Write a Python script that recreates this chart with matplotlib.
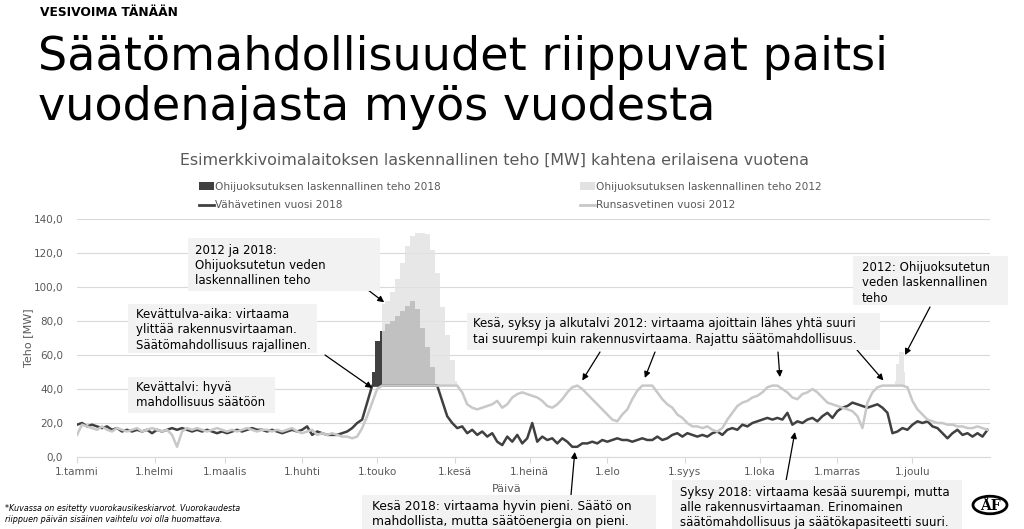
import numpy as np
import matplotlib.pyplot as plt
from matplotlib.patches import Patch, Rectangle, Circle
from matplotlib.lines import Line2D
from matplotlib.ticker import FuncFormatter

plt.rcParams['font.family'] = ['DejaVu Sans']

W, H = 1024, 529

# daily mean power, one value every second day
days = np.arange(0, 365, 2)
dry_2018 = [
    19, 20, 18, 19, 18, 17, 18, 16, 17, 15, 16, 15, 16, 15, 16, 14, 16, 15, 16, 17,
    16, 17, 16, 15, 16, 15, 16, 15, 14, 15, 14, 15, 16, 15, 16, 17, 16, 16, 15, 16,
    15, 14, 15, 16, 15, 16, 18, 13, 15, 14, 13, 13, 13, 14, 15, 17, 20, 22, 32, 42,
    42, 42, 42, 42, 42, 42, 42, 42, 42, 42, 42, 42, 42, 33, 24, 20, 17, 18, 14, 16,
    13, 15, 12, 14, 9, 7, 12, 9, 13, 8, 11, 20, 9, 12, 10, 11, 8, 11, 9, 6,
    6, 8, 8, 9, 8, 10, 9, 10, 11, 10, 10, 9, 10, 11, 10, 10, 12, 10, 11, 13,
    14, 12, 14, 13, 12, 13, 12, 14, 15, 13, 16, 17, 16, 19, 18, 20, 21, 22, 23, 22,
    23, 22, 26, 19, 21, 20, 22, 23, 21, 24, 26, 23, 27, 29, 30, 32, 31, 30, 29, 30,
    31, 29, 26, 14, 15, 17, 16, 19, 21, 20, 21, 18, 17, 14, 11, 14, 16, 13, 14, 12,
    14, 12, 16,
]
wet_2012 = [
    13, 19, 18, 17, 16, 18, 16, 15, 17, 16, 15, 16, 17, 15, 16, 17, 16, 15, 16, 13,
    6, 15, 17, 16, 17, 16, 15, 16, 17, 16, 15, 16, 15, 16, 17, 16, 15, 16, 16, 15,
    16, 15, 16, 17, 15, 14, 15, 16, 13, 14, 13, 14, 13, 12, 12, 11, 12, 17, 24, 32,
    40, 42, 42, 42, 42, 42, 42, 42, 42, 42, 42, 42, 42, 42, 42, 42, 42, 38, 31, 29,
    28, 29, 30, 31, 33, 29, 31, 35, 37, 38, 37, 36, 35, 33, 30, 29, 31, 34, 38, 41,
    42, 40, 37, 34, 31, 28, 25, 22, 21, 25, 28, 34, 39, 42, 42, 42, 38, 34, 31, 29,
    25, 23, 20, 18, 18, 17, 18, 16, 15, 17, 22, 26, 30, 32, 33, 35, 36, 38, 41, 42,
    42, 40, 38, 35, 34, 37, 38, 40, 38, 35, 32, 31, 30, 29, 28, 27, 24, 17, 32, 38,
    41, 42, 42, 42, 42, 42, 41, 33, 28, 25, 22, 21, 20, 20, 19, 19, 18, 18, 17, 17,
    18, 17, 16,
]

# computed power of the spilled water (total above the plant capacity)
capacity = 42
spill_days_2018 = [118, 120, 122, 124, 126, 128, 130, 132, 134, 136, 138, 140, 142, 144]
spill_2018 = [50, 68, 74, 78, 80, 83, 86, 89, 92, 87, 76, 65, 53, 43]
spill_days_2012 = [122, 124, 126, 128, 130, 132, 134, 136, 138, 140, 142, 144, 146, 148, 150, 152]
spill_2012 = [90, 92, 97, 105, 114, 124, 130, 132, 132, 131, 122, 108, 88, 72, 57, 45]
spill_days_2012_dec = [327, 328, 329, 330, 331]
spill_2012_dec = [45, 55, 62, 62, 50]

month_days = [0, 31, 59, 90, 120, 151, 181, 212, 243, 273, 304, 334]
month_labels = ['1.tammi', '1.helmi', '1.maalis', '1.huhti', '1.touko', '1.kesä',
                '1.heinä', '1.elo', '1.syys', '1.loka', '1.marras', '1.joulu']

dark = '#404040'
light = '#c8c8c8'
spill_light = '#e2e2e2'
txt_gray = '#595959'


def fx(x):
    return x / W


def fy(y):
    return 1 - y / H


fig = plt.figure(figsize=(W / 100, H / 100), dpi=100)
ax = fig.add_axes([fx(77), fy(457), 913 / W, 238 / H])

ax.fill_between(spill_days_2018, capacity, spill_2018, step='mid', color=dark, lw=0, zorder=1)
ax.fill_between(spill_days_2012, capacity, spill_2012, step='mid', color=spill_light, alpha=0.8, lw=0, zorder=2)
ax.fill_between(spill_days_2012_dec, capacity, spill_2012_dec, step='mid', color=spill_light, alpha=0.8, lw=0, zorder=2)
ax.plot(days, dry_2018, color=dark, lw=1.8, zorder=3)
ax.plot(days, wet_2012, color=light, lw=1.8, zorder=4)

ax.set_xlim(0, 365)
ax.set_ylim(0, 140)
ax.set_yticks(np.arange(0, 141, 20))
ax.yaxis.set_major_formatter(FuncFormatter(lambda v, p: f'{v:.1f}'.replace('.', ',')))
ax.set_xticks(month_days)
ax.set_xticklabels(month_labels)
ax.grid(axis='y', color='#d9d9d9', lw=0.8)
ax.set_axisbelow(True)
for s in ['top', 'right', 'left']:
    ax.spines[s].set_visible(False)
ax.spines['bottom'].set_color('#d9d9d9')
ax.tick_params(axis='y', length=0, labelsize=7.5, labelcolor=txt_gray, pad=10)
ax.tick_params(axis='x', length=4, color='#d9d9d9', labelsize=7.5, labelcolor=txt_gray, pad=3)

ax.set_ylabel('Teho [MW]', fontsize=8, color=txt_gray)
ax.yaxis.set_label_coords((33 - 77) / 913, 0.5)
ax.set_xlabel('Päivä', fontsize=8, color=txt_gray)
ax.xaxis.set_label_coords((507 - 77) / 913, -(484 - 457) / 238)

# headings
fig.text(fx(40), fy(12), 'VESIVOIMA TÄNÄÄN', fontsize=8.8, fontweight='bold', va='center')
fig.text(fx(38), fy(70), 'Säätömahdollisuudet riippuvat paitsi', fontsize=33.2, va='baseline')
fig.text(fx(38), fy(120), 'vuodenajasta myös vuodesta', fontsize=33.2, va='baseline')
fig.text(fx(494), fy(160), 'Esimerkkivoimalaitoksen laskennallinen teho [MW] kahtena erilaisena vuotena',
         fontsize=11.4, color=txt_gray, ha='center', va='center')

handles = [Patch(fc=dark, ec='none'), Line2D([], [], color=dark, lw=2),
           Patch(fc=spill_light, ec='none'), Line2D([], [], color=light, lw=2)]
labels = ['Ohijuoksutuksen laskennallinen teho 2018', 'Vähävetinen vuosi 2018',
          'Ohijuoksutuksen laskennallinen teho 2012', 'Runsasvetinen vuosi 2012']
fig.legend(handles, labels, ncol=2, loc='center', bbox_to_anchor=(fx(510), fy(196)),
           frameon=False, fontsize=7.6, labelcolor=txt_gray, handlelength=1.4,
           handletextpad=0.1, columnspacing=13.2, labelspacing=0.85)


# annotation boxes: (x0, y0, x1, y1) in image pixels, text block center y
def note(box, tx, ty, text, size=8.5):
    x0, y0, x1, y1 = box
    fig.patches.append(Rectangle((fx(x0), fy(y1)), (x1 - x0) / W, (y1 - y0) / H,
                                 transform=fig.transFigure, fc='#f2f2f2', ec='none', zorder=5))
    fig.text(fx(tx), fy(ty), text, fontsize=size, va='center', ha='left',
             linespacing=1.2, zorder=6)


def arrow(start, day, value):
    ax.annotate('', xy=(day, value), xycoords='data',
                xytext=(start[0], H - start[1]), textcoords='figure pixels',
                arrowprops=dict(arrowstyle='-|>', color='black', lw=0.9,
                                mutation_scale=9, shrinkA=0, shrinkB=0),
                annotation_clip=False, zorder=7)


note((188, 238, 380, 291), 195, 265.5, '2012 ja 2018:\nOhijuoksutetun veden\nlaskennallinen teho')
note((128, 304, 317, 353), 136, 330, 'Kevättulva-aika: virtaama\nylittää rakennusvirtaaman.\nSäätömahdollisuus rajallinen.')
note((128, 377, 275, 413), 136, 394.5, 'Kevättalvi: hyvä\nmahdollisuus säätöön')
note((467, 313, 880, 350), 473, 331.5,
     'Kesä, syksy ja alkutalvi 2012: virtaama ajoittain lähes yhtä suuri\n'
     'tai suurempi kuin rakennusvirtaama. Rajattu säätömahdollisuus.')
note((853, 256, 1008, 305), 862, 283, '2012: Ohijuoksutetun\nveden laskennallinen\nteho')
note((362, 495, 656, 529), 372, 514,
     'Kesä 2018: virtaama hyvin pieni. Säätö on\nmahdollista, mutta säätöenergia on pieni.', size=8.8)
note((672, 480, 962, 529), 680, 507.5,
     'Syksy 2018: virtaama kesää suurempi, mutta\nalle rakennusvirtaaman. Erinomainen\n'
     'säätömahdollisuus ja säätökapasiteetti suuri.', size=8.5)

arrow((368, 290), 122.8, 91)
arrow((325, 355), 118, 40.6)
arrow((600, 352), 202, 45)
arrow((655, 352), 227, 46.5)
arrow((778, 352), 281, 47)
arrow((857, 350), 322.4, 45)
arrow((930, 307), 331, 60)
arrow((571, 495), 199, 3)
arrow((786, 481), 287, 14.7)

fig.text(fx(5), fy(514), '*Kuvassa on esitetty vuorokausikeskiarvot. Vuorokaudesta\n'
         'riippuen päivän sisäinen vaihtelu voi olla huomattava.',
         fontsize=5.8, style='italic', va='center', linespacing=1.2)

# logo
fig.patches.append(Circle((fx(990), fy(505)), 17 / W, transform=fig.transFigure,
                          fc='none', ec='black', lw=2))
fig.text(fx(990), fy(506), 'ÅF', fontsize=10, family='DejaVu Serif', fontweight='bold',
         ha='center', va='center')

fig.savefig('out.png', dpi=100)
